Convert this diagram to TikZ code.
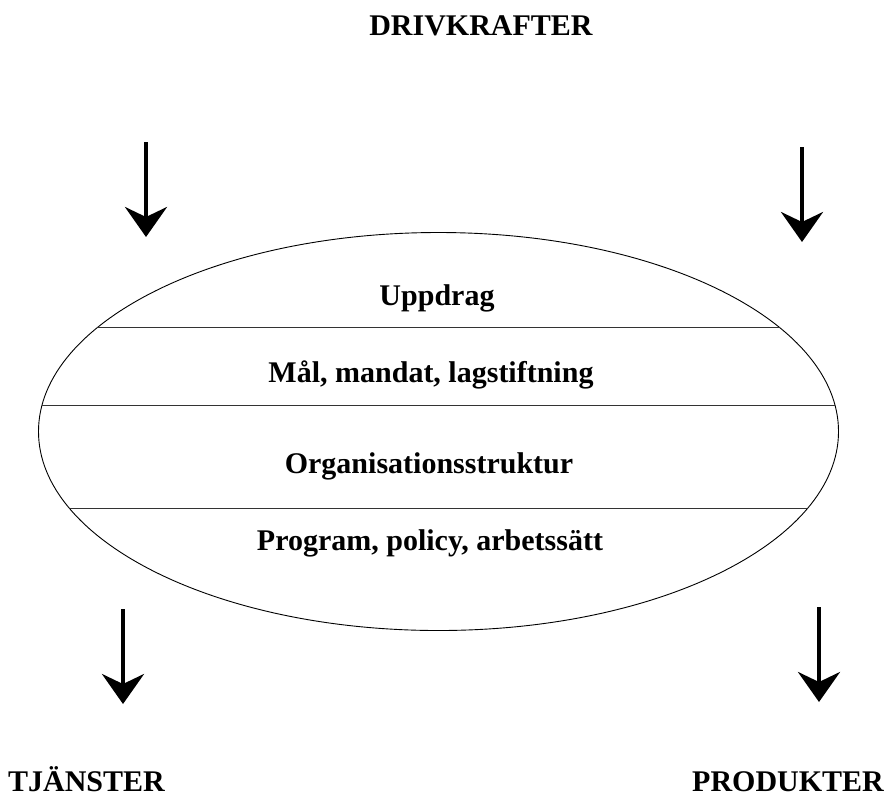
\documentclass[tikz,border=0pt]{standalone}
\usepackage{fontspec}
\setmainfont{Liberation Serif}
\usetikzlibrary{arrows.meta,shapes.geometric}
\begin{document}
\begin{tikzpicture}[x=1pt,y=-1pt,
  label/.style={font=\fontsize{30}{30}\selectfont\bfseries, anchor=base, inner sep=0pt},
  flow/.style={line width=4.2pt, -{Stealth[length=30pt,width=42pt,inset=10pt]}},
  divider/.style={line width=0.9pt, draw=black!80}]
  \useasboundingbox (0,0) rectangle (890,796);

  % the organisation oval
  \node[draw, ellipse, line width=0.9pt, minimum width=800pt, minimum height=398pt, inner sep=0pt] (oval) at (438.5,431.5) {};
  \begin{scope}
    \clip (438.5,431.5) ellipse [x radius=400, y radius=199];
    \draw[divider] (0,327) -- (890,327);
    \draw[divider] (0,405) -- (890,405);
    \draw[divider] (0,508) -- (890,508);
  \end{scope}

  % layer texts
  \node[label] (l1) at (437,305) {Uppdrag};
  \node[label] (l2) at (431,382) {Mål, mandat, lagstiftning};
  \node[label] (l3) at (429,473) {Organisationsstruktur};
  \node[label] (l4) at (430,550) {Program, policy, arbetssätt};

  % headings
  \node[label] (driv) at (481,35) {DRIVKRAFTER};
  \node[label] (tj) at (86.5,791) {TJÄNSTER};
  \node[label] (prod) at (788,791) {PRODUKTER};

  % arrow ends
  \coordinate (a1s) at (146,142); \coordinate (a1e) at (146,237);
  \coordinate (a2s) at (802,147); \coordinate (a2e) at (802,242);
  \coordinate (a3s) at (123,609); \coordinate (a3e) at (123,704);
  \coordinate (a4s) at (819,607); \coordinate (a4e) at (819,702);
  \draw[flow] (a1s) -- (a1e);
  \draw[flow] (a2s) -- (a2e);
  \draw[flow] (a3s) -- (a3e);
  \draw[flow] (a4s) -- (a4e);
\end{tikzpicture}
\end{document}
